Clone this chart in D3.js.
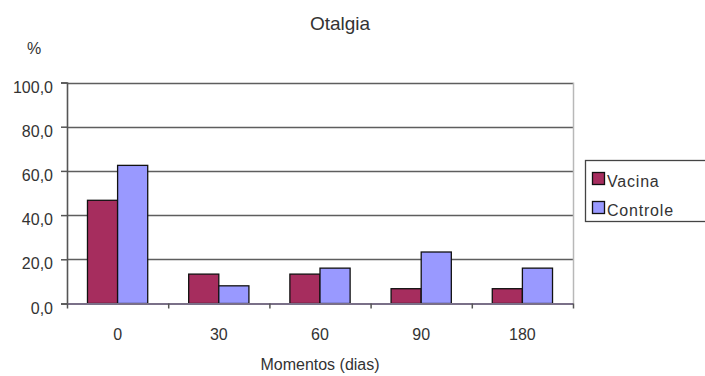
<!DOCTYPE html>
<html>
<head>
<meta charset="utf-8">
<script src="https://cdn.jsdelivr.net/npm/d3@7"></script>
<style>
  html, body { margin: 0; padding: 0; background: #fff; }
  svg { display: block; font-family: Arial, "Liberation Sans", sans-serif; }
</style>
</head>
<body>
<svg id="chart" width="705" height="376"></svg>
<script>
// Otalgia (%) by follow-up moment, vaccine vs control group
const categories = ["0", "30", "60", "90", "180"];
const vacina = [46.7, 13.3, 13.3, 6.7, 6.7];
const controle = [62.5, 8.0, 16.0, 23.3, 16.0];
const seriesNames = ["Vacina", "Controle"];
const yTicks = [0, 20, 40, 60, 80, 100];

const colors = { Vacina: "#A62D5E", Controle: "#9999FF" };

const svg = d3.select("#chart");
const plot = { left: 67, right: 573, top: 82.5, bottom: 303.5 };

const x = d3.scaleBand().domain(categories).range([plot.left, plot.right]).paddingInner(0).paddingOuter(0);
const y = d3.scaleLinear().domain([0, 100]).range([plot.bottom, plot.top]);
const xInner = d3.scaleBand().domain(seriesNames).range([0, x.bandwidth()]).paddingInner(0).paddingOuter(0.68);

const fmt = v => d3.format(".1f")(v).replace(".", ",");

// horizontal gridlines
svg.append("g").selectAll("line").data(yTicks.filter(d => d > 0)).join("line")
  .attr("x1", plot.left).attr("x2", plot.right)
  .attr("y1", d => Math.round(y(d)) + 0.5).attr("y2", d => Math.round(y(d)) + 0.5)
  .attr("stroke", "#5e5e5e").attr("stroke-width", 1.7);

// right border of plot area
svg.append("line")
  .attr("x1", plot.right + 0.5).attr("x2", plot.right + 0.5)
  .attr("y1", plot.top).attr("y2", plot.bottom)
  .attr("stroke", "#b8b8b8").attr("stroke-width", 1.5);

// bars
const rows = categories.map((c, i) => ({ cat: c, values: [
  { name: "Vacina", value: vacina[i] },
  { name: "Controle", value: controle[i] }
]}));

const groups = svg.append("g").selectAll("g").data(rows).join("g")
  .attr("transform", d => `translate(${x(d.cat)},0)`);
groups.selectAll("rect").data(d => d.values).join("rect")
  .attr("x", d => xInner(d.name))
  .attr("y", d => y(d.value))
  .attr("width", xInner.bandwidth())
  .attr("height", d => y(0) - y(d.value))
  .attr("fill", d => colors[d.name])
  .attr("stroke", "#111").attr("stroke-width", 1.3);

// y axis
const yAxis = d3.axisLeft(y).tickValues(yTicks).tickFormat(fmt).tickSize(6).tickPadding(8);
const gy = svg.append("g").attr("transform", `translate(${plot.left},0)`).call(yAxis);
gy.select(".domain").attr("stroke", "#555").attr("stroke-width", 1.6);
gy.selectAll(".tick line").attr("stroke", "#555").attr("stroke-width", 1.5);
gy.selectAll(".tick text").attr("fill", "#333").attr("dy", "0.6em").style("font-size", "16px");

// x axis
const xAxis = d3.axisBottom(d3.scaleLinear().domain([0, categories.length]).range([plot.left, plot.right]))
  .tickValues(d3.range(categories.length + 1)).tickFormat("").tickSize(5).tickSizeOuter(0);
const gx = svg.append("g").attr("transform", `translate(0,${plot.bottom})`).call(xAxis);
gx.select(".domain").attr("stroke", "#7a7088").attr("stroke-width", 2);
gx.selectAll(".tick line").attr("stroke", "#555").attr("stroke-width", 1.5);

svg.append("g").selectAll("text").data(categories).join("text")
  .attr("x", d => x(d) + x.bandwidth() / 2)
  .attr("y", 340)
  .attr("text-anchor", "middle")
  .attr("fill", "#333").style("font-size", "16px")
  .text(d => d);

// titles
svg.append("text").attr("x", 340).attr("y", 30).attr("text-anchor", "middle")
  .attr("fill", "#333").style("font-size", "19px").text("Otalgia");
svg.append("text").attr("x", 34).attr("y", 54).attr("text-anchor", "middle")
  .attr("fill", "#333").style("font-size", "16px").text("%");
svg.append("text").attr("x", 320).attr("y", 370).attr("text-anchor", "middle")
  .attr("fill", "#333").style("font-size", "16px").text("Momentos (dias)");

// legend
const legend = svg.append("g");
legend.append("rect").attr("x", 585.5).attr("y", 160.5).attr("width", 130).attr("height", 61)
  .attr("fill", "#fff").attr("stroke", "#444").attr("stroke-width", 1.3);
seriesNames.forEach((s, i) => {
  const base = 187 + i * 29;
  legend.append("rect").attr("x", 592.5).attr("y", base - 14.5).attr("width", 12).attr("height", 12)
    .attr("fill", colors[s]).attr("stroke", "#111").attr("stroke-width", 1.3);
  legend.append("text").attr("x", 607).attr("y", base).attr("fill", "#333")
    .style("font-size", "16px").style("letter-spacing", "0.8px").text(s);
});
</script>
</body>
</html>
